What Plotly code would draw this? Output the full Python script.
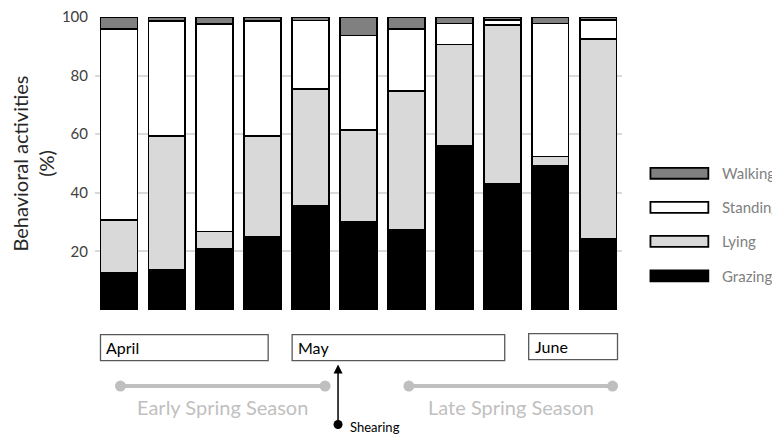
import plotly.graph_objects as go

# ---- data ----
samples = list(range(1, 12))
grazing = [12.5, 13.7, 21.0, 25.0, 35.5, 30.0, 27.3, 56.0, 43.2, 49.2, 24.4]
lying = [18.2, 45.7, 5.8, 34.4, 40.0, 31.3, 47.4, 34.6, 54.1, 3.2, 68.1]
standing = [65.3, 39.1, 70.8, 39.1, 23.3, 32.4, 21.3, 7.2, 1.7, 45.4, 6.4]
walking = [4.0, 1.5, 2.4, 1.5, 1.2, 6.3, 4.0, 2.2, 1.0, 2.2, 1.1]
series_names = ["Grazing", "Lying", "Standing", "Walking"]
series_values = [grazing, lying, standing, walking]
series_colors = ["#000000", "#d9d9d9", "#ffffff", "#808080"]
y_ticks = [20, 40, 60, 80, 100]
months = ["April", "May", "June"]
seasons = ["Early Spring Season", "Late Spring Season"]
event_label = "Shearing"

# ---- layout geometry (pixels in the 780x437 window; page has an 8px body margin) ----
OFF = 8
WIDTH, HEIGHT = 780 - OFF, 437 - OFF
L, R, T, B = 94.5 - OFF, 622.5 - OFF, 16.7 - OFF, 310.3 - OFF
PW, PH = R - L, B - T


def px(x):
    return (x - OFF - L) / PW


def py(y):
    return (B - (y - OFF)) / PH


FONT = "Lato"

fig = go.Figure()
for name, vals, col in zip(series_names, series_values, series_colors):
    fig.add_trace(go.Bar(
        x=samples, y=vals, name=name,
        marker=dict(color=col, line=dict(color="#000000", width=1.8)),
        showlegend=False,
    ))

shapes = []
annotations = []

# month boxes
month_boxes = [(100, 268, 335, 361), (292, 505, 335, 361), (529, 618, 334, 360)]
for m, (x0, x1, y0, y1) in zip(months, month_boxes):
    shapes.append(dict(type="rect", xref="paper", yref="paper",
                       x0=px(x0), x1=px(x1), y0=py(y0), y1=py(y1),
                       line=dict(color="#595959", width=1.3), fillcolor="white"))
    annotations.append(dict(text=m, xref="paper", yref="paper", x=px(x0 + 4),
                            y=py((y0 + y1) / 2), xanchor="left", yanchor="middle",
                            showarrow=False, font=dict(family=FONT, size=16, color="#000000")))

# season lines
season_lines = [(120, 325), (409, 613)]
for s, (x0, x1) in zip(seasons, season_lines):
    yl = py(386.5)
    shapes.append(dict(type="line", xref="paper", yref="paper", x0=px(x0), x1=px(x1),
                       y0=yl, y1=yl, line=dict(color="#bfbfbf", width=4)))
    for xc in (x0, x1):
        shapes.append(dict(type="circle", xref="paper", yref="paper",
                           xsizemode="pixel", ysizemode="pixel",
                           xanchor=px(xc), yanchor=yl, x0=-5.5, x1=5.5, y0=-5.5, y1=5.5,
                           line=dict(width=0), fillcolor="#bfbfbf"))
    annotations.append(dict(text=s, xref="paper", yref="paper", x=px((x0 + x1) / 2),
                            y=py(407), xanchor="center", yanchor="middle", showarrow=False,
                            font=dict(family=FONT, size=20, color="#bfbfbf")))

# shearing arrow
annotations.append(dict(text="", xref="paper", yref="paper", x=px(338), y=py(365),
                        ax=0, ay=60, showarrow=True, arrowhead=2, arrowsize=1.2,
                        arrowwidth=1.5, arrowcolor="#000000"))
shapes.append(dict(type="circle", xref="paper", yref="paper", xsizemode="pixel",
                   ysizemode="pixel", xanchor=px(338), yanchor=py(425),
                   x0=-4.5, x1=4.5, y0=-4.5, y1=4.5, line=dict(width=0), fillcolor="#000000"))
annotations.append(dict(text=event_label, xref="paper", yref="paper", x=px(348), y=py(428),
                        xanchor="left", yanchor="middle", showarrow=False,
                        font=dict(family=FONT, size=13, color="#000000")))

# custom legend (wide swatches)
leg_y = [276, 241.5, 207.5, 173.3]
for name, col, yc in zip(series_names, series_colors, leg_y):
    shapes.append(dict(type="rect", xref="paper", yref="paper",
                       x0=px(651), x1=px(709), y0=py(yc + 5.5), y1=py(yc - 5.5),
                       line=dict(color="#000000", width=1.8), fillcolor=col))
    annotations.append(dict(text=name, xref="paper", yref="paper", x=px(721), y=py(yc),
                            xanchor="left", yanchor="middle", showarrow=False,
                            font=dict(family=FONT, size=15, color="#7f7f7f")))

fig.update_layout(
    width=WIDTH, height=HEIGHT,
    margin=dict(l=L, r=WIDTH - R, t=T, b=HEIGHT - B, autoexpand=False),
    paper_bgcolor="white", plot_bgcolor="white",
    barmode="stack", bargap=0.23,
    showlegend=False,
    font=dict(family=FONT),
    shapes=shapes, annotations=annotations,
    xaxis=dict(range=[0.5, 11.5], showticklabels=False, showgrid=False, zeroline=False,
               showline=False, ticks=""),
    yaxis=dict(range=[0, 100], tickvals=y_ticks, showgrid=True, gridcolor="#d9d9d9",
               gridwidth=1.5, zeroline=False, showline=False, ticks="",
               ticklabeloverflow="allow", ticklabelstandoff=6,
               tickfont=dict(family=FONT, size=15, color="#404040"),
               title=dict(text="Behavioral activities<br>(%)", standoff=4,
                          font=dict(family=FONT, size=20, color="#262626"))),
)

fig.write_html("out.html")
